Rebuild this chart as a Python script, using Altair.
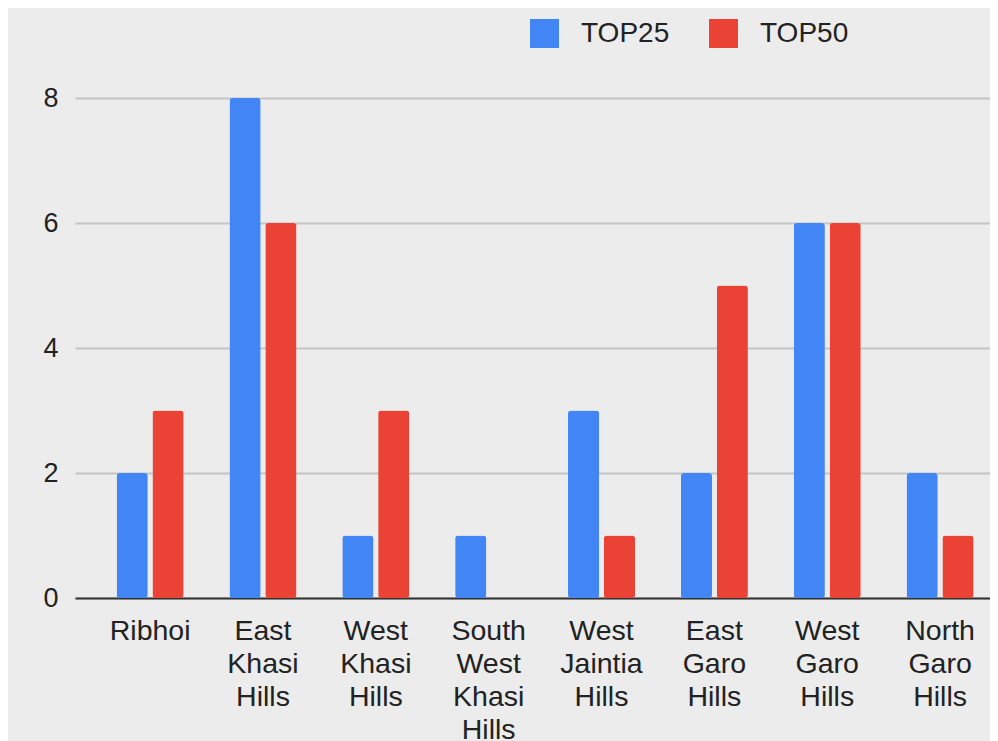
import altair as alt
import pandas as pd

districts = ["Ribhoi", "East Khasi Hills", "West Khasi Hills", "South West Khasi Hills",
             "West Jaintia Hills", "East Garo Hills", "West Garo Hills", "North Garo Hills"]
series = ["TOP25", "TOP50"]
top25 = [2, 8, 1, 1, 3, 2, 6, 2]
top50 = [3, 6, 3, 0, 1, 5, 6, 1]
colors = ["#4285F4", "#EA4335"]

rows = []
for d, a, b in zip(districts, top25, top50):
    rows.append({"district": d, "series": "TOP25", "value": a})
    rows.append({"district": d, "series": "TOP50", "value": b})
df = pd.DataFrame(rows)

FONT = "Liberation Sans"

chart = alt.Chart(df).mark_bar(cornerRadius=3).encode(
    x=alt.X("district:N", sort=districts,
            scale=alt.Scale(paddingInner=0.406, paddingOuter=0.257, align=0.717),
            axis=alt.Axis(title=None, labelAngle=0, labelExpr="split(datum.label, ' ')",
                          labelFontSize=28.5, labelLineHeight=33.3, labelPadding=18,
                          labelColor="#222222", labelFont=FONT, ticks=False,
                          domain=True, domainColor="#333333", domainWidth=2,
                          grid=False, labelLimit=0)),
    xOffset=alt.XOffset("series:N", sort=series,
                        scale=alt.Scale(paddingInner=0.13, paddingOuter=0)),
    y=alt.Y("value:Q", scale=alt.Scale(domain=[0, 8], nice=False),
            axis=alt.Axis(title=None, values=[0, 2, 4, 6, 8], labelFontSize=27,
                          labelColor="#222222", labelFont=FONT, labelPadding=17,
                          ticks=False, domain=False, grid=True, gridColor="#c4c4c4",
                          gridWidth=2)),
    color=alt.Color("series:N", sort=series,
                    scale=alt.Scale(domain=series, range=colors),
                    legend=alt.Legend(title=None, orient="none", legendX=455, legendY=-79,
                                      direction="horizontal", symbolType="square",
                                      symbolSize=841, symbolStrokeWidth=0,
                                      labelFontSize=28, labelFont=FONT,
                                      labelColor="#222222", labelOffset=22,
                                      columnPadding=39, padding=0)),
).properties(
    width=915, height=500,
    autosize=alt.AutoSizeParams(type="none"),
    padding={"left": 67, "top": 90, "right": 0, "bottom": 143},
    background="#ececec",
).configure_view(stroke=None)

chart.save("out.html", embed_options={"renderer": "svg", "actions": False})
